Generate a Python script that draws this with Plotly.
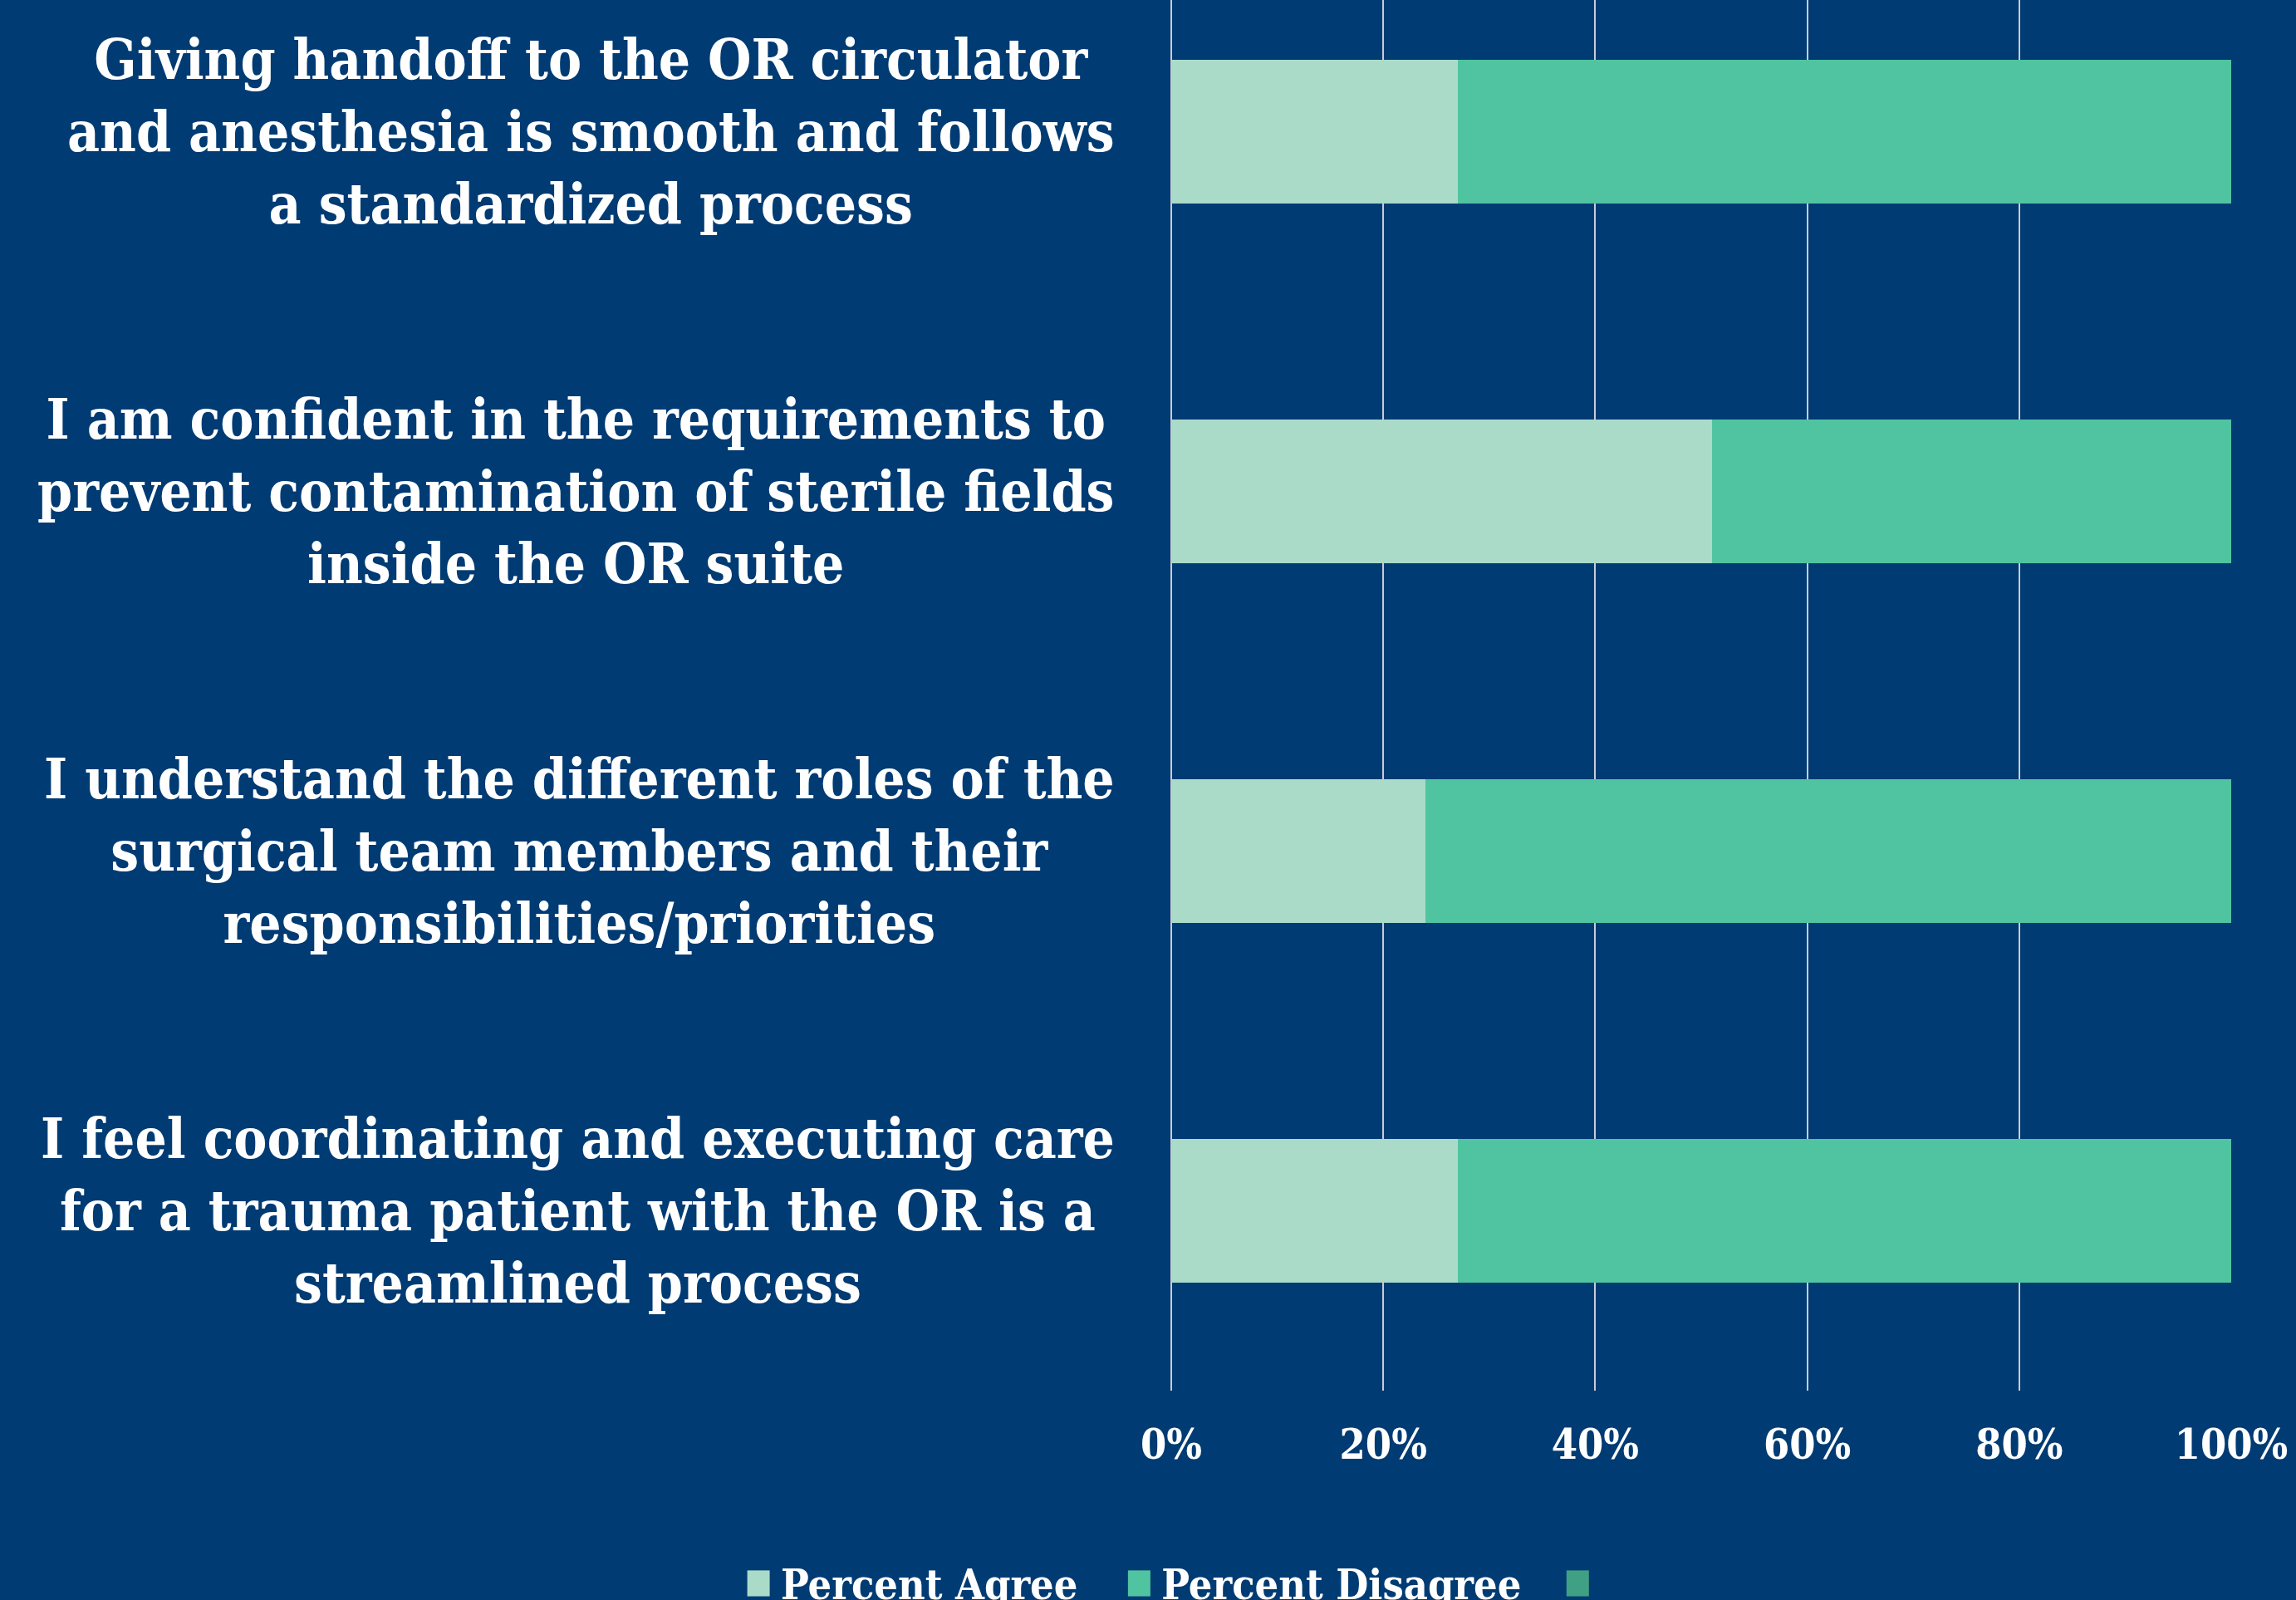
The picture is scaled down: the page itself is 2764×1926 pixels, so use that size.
import plotly.graph_objects as go

categories = [
    "I feel coordinating and executing care<br>for a trauma patient with the OR is a<br>streamlined process",
    "I understand the different roles of the<br>surgical team members and their<br>responsibilities/priorities",
    "I am confident in the requirements to<br>prevent contamination of sterile fields<br>inside the OR suite",
    "Giving handoff to the OR circulator<br>and anesthesia is smooth and follows<br>a standardized process",
]
percent_agree = [27, 24, 51, 27]
percent_disagree = [73, 76, 49, 73]
third_series = [0, 0, 0, 0]
x_ticks = [0, 20, 40, 60, 80, 100]
x_tick_labels = ["0%", "20%", "40%", "60%", "80%", "100%"]

FONT = "DejaVu Serif Condensed, DejaVu Serif, serif"
BG = "#013B73"

fig = go.Figure()
fig.add_trace(go.Bar(y=categories, x=percent_agree, orientation="h", name="Percent Agree",
                     marker=dict(color="#AADBC9", line=dict(width=0))))
fig.add_trace(go.Bar(y=categories, x=percent_disagree, orientation="h", name="Percent Disagree",
                     marker=dict(color="#50C4A0", line=dict(width=0))))
fig.add_trace(go.Bar(y=categories, x=third_series, orientation="h", name="",
                     marker=dict(color="#40A083", line=dict(width=0))))

for c in categories:
    fig.add_annotation(x=-0.052, xref="paper", y=c, yref="y", text=c, showarrow=False,
                       xanchor="right", yanchor="middle", align="center",
                       font=dict(family=FONT, size=67, color="white", weight="bold"))

fig.update_layout(
    width=2764, height=1926,
    barmode="stack", bargap=0.6,
    paper_bgcolor=BG, plot_bgcolor=BG,
    margin=dict(l=1410, r=78, t=0, b=252),
    font=dict(family=FONT, color="white", size=50),
    showlegend=True,
    legend=dict(orientation="h", x=-0.4435, xanchor="left", xref="paper",
                y=0.0104, yanchor="middle", yref="container",
                font=dict(family=FONT, size=50, color="white", weight="bold"),
                bgcolor="rgba(0,0,0,0)", traceorder="normal", itemwidth=86),
)
fig.update_xaxes(range=[0, 100], tickvals=x_ticks, ticktext=x_tick_labels, showgrid=True,
                 gridcolor="#C8CCD4", gridwidth=2, zeroline=True, zerolinecolor="#C8CCD4",
                 zerolinewidth=2, showline=False, ticks="", ticklabelstandoff=31,
                 tickfont=dict(family=FONT, size=50, color="white", weight="bold"))
fig.update_yaxes(range=[-0.5, 3.366], showticklabels=False, showgrid=False, zeroline=False,
                 showline=False, ticks="")

post = """
document.body.style.margin='0px';
function fixLegend(){
  document.querySelectorAll('.legend .scrollbox').forEach(function(s){ s.removeAttribute('clip-path'); });
  document.querySelectorAll('.legend .traces').forEach(function(t){
    var txt = t.querySelector('.legendtext');
    var p = t.querySelector('.legendpoints path');
    if(!p || !txt) return;
    p.removeAttribute('transform');
    var pr = p.getBoundingClientRect();
    var tr = txt.getBoundingClientRect();
    var tx = (tr.width > 0) ? tr.left : parseFloat(txt.getAttribute('x') || 0) + t.getBoundingClientRect().left;
    var dx = (tx - 27) - (pr.left + pr.right) / 2;
    p.setAttribute('transform', 'translate(' + dx + ',0) scale(2.25,2.6)');
  });
}
fixLegend();
setTimeout(fixLegend, 300);
"""
fig.write_html("out.html", post_script=post, config={"displayModeBar": False})
